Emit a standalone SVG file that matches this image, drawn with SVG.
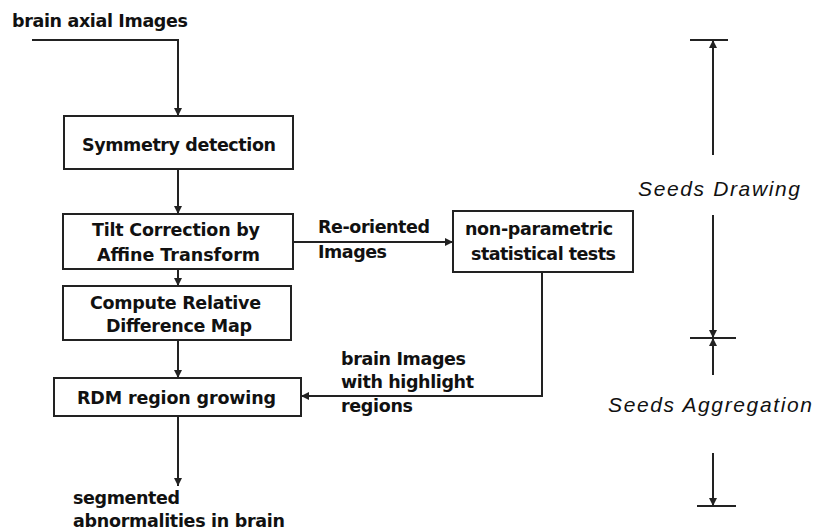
<svg xmlns="http://www.w3.org/2000/svg" width="816" height="531" viewBox="0 0 816 531">
<defs>
<style>
.t{font-family:"DejaVu Sans","Liberation Sans",sans-serif;font-weight:bold;font-size:17.5px;fill:#111}
.i{font-family:"Liberation Sans",Arial,sans-serif;font-style:italic;font-size:21px;fill:#111}
.box{fill:#fff;stroke:#222;stroke-width:2}
.ln{fill:none;stroke:#222;stroke-width:2}
</style>
<marker id="ah" viewBox="0 0 10 10" refX="10" refY="5" markerWidth="8" markerHeight="8" markerUnits="userSpaceOnUse" orient="auto">
<path d="M0,0 L10,5 L0,10 z" fill="#222"/>
</marker>
</defs>
<rect width="816" height="531" fill="#fff"/>
<g id="connectors">
<path class="ln" d="M32,40 H178 V116" marker-end="url(#ah)"/>
<path class="ln" d="M178,169 V214" marker-end="url(#ah)"/>
<path class="ln" d="M178,269 V286" marker-end="url(#ah)"/>
<path class="ln" d="M178,340 V378" marker-end="url(#ah)"/>
<path class="ln" d="M178,416 V486" marker-end="url(#ah)"/>
<path class="ln" d="M293,242 H453" marker-end="url(#ah)"/>
<path class="ln" d="M542,272 V396 H301" marker-end="url(#ah)"/>
</g>
<g id="input-label"><text class="t" x="12" y="27" textLength="176" lengthAdjust="spacing">brain axial Images</text></g>
<g id="symmetry">
<rect class="box" x="64" y="116" width="229" height="53"/>
<text class="t" x="82" y="151" textLength="194" lengthAdjust="spacing">Symmetry detection</text>
</g>
<g id="tilt">
<rect class="box" x="63" y="214" width="230" height="55"/>
<text class="t" x="92" y="236" textLength="168" lengthAdjust="spacing">Tilt Correction by</text>
<text class="t" x="97" y="261" textLength="163" lengthAdjust="spacing">Affine Transform</text>
</g>
<g id="rdm-compute">
<rect class="box" x="63" y="286" width="228" height="54"/>
<text class="t" x="90" y="309" textLength="171" lengthAdjust="spacing">Compute Relative</text>
<text class="t" x="106" y="332" textLength="146" lengthAdjust="spacing">Difference Map</text>
</g>
<g id="region-growing">
<rect class="box" x="54" y="378" width="247" height="38"/>
<text class="t" x="77" y="404" textLength="199" lengthAdjust="spacing">RDM region growing</text>
</g>
<g id="nonparam">
<rect class="box" x="453" y="211" width="180" height="61"/>
<text class="t" x="465" y="235" textLength="148" lengthAdjust="spacing">non-parametric</text>
<text class="t" x="471" y="260" textLength="145" lengthAdjust="spacing">statistical tests</text>
</g>
<g id="reoriented-label">
<text class="t" x="318" y="233" textLength="112" lengthAdjust="spacing">Re-oriented</text>
<text class="t" x="318" y="258" textLength="69" lengthAdjust="spacing">Images</text>
</g>
<g id="highlight-label">
<text class="t" x="341" y="365" textLength="125" lengthAdjust="spacing">brain Images</text>
<text class="t" x="341" y="388" textLength="133" lengthAdjust="spacing">with highlight</text>
<text class="t" x="341" y="412" textLength="72" lengthAdjust="spacing">regions</text>
</g>
<g id="output-label">
<text class="t" x="73" y="504" textLength="107" lengthAdjust="spacing">segmented</text>
<text class="t" x="73" y="527" textLength="212" lengthAdjust="spacing">abnormalities in brain</text>
</g>
<g id="phases">
<path class="ln" d="M690,40 H728"/>
<path class="ln" d="M690,338 H736"/>
<path class="ln" d="M697,506 H736"/>
<path class="ln" d="M713,155 V40" marker-end="url(#ah)"/>
<path class="ln" d="M713,215 V338" marker-end="url(#ah)"/>
<path class="ln" d="M713,375 V338" marker-end="url(#ah)"/>
<path class="ln" d="M713,453 V506" marker-end="url(#ah)"/>
<text class="i" x="638" y="196" textLength="162" lengthAdjust="spacing">Seeds Drawing</text>
<text class="i" x="608" y="412" textLength="204" lengthAdjust="spacing">Seeds Aggregation</text>
</g>
</svg>
